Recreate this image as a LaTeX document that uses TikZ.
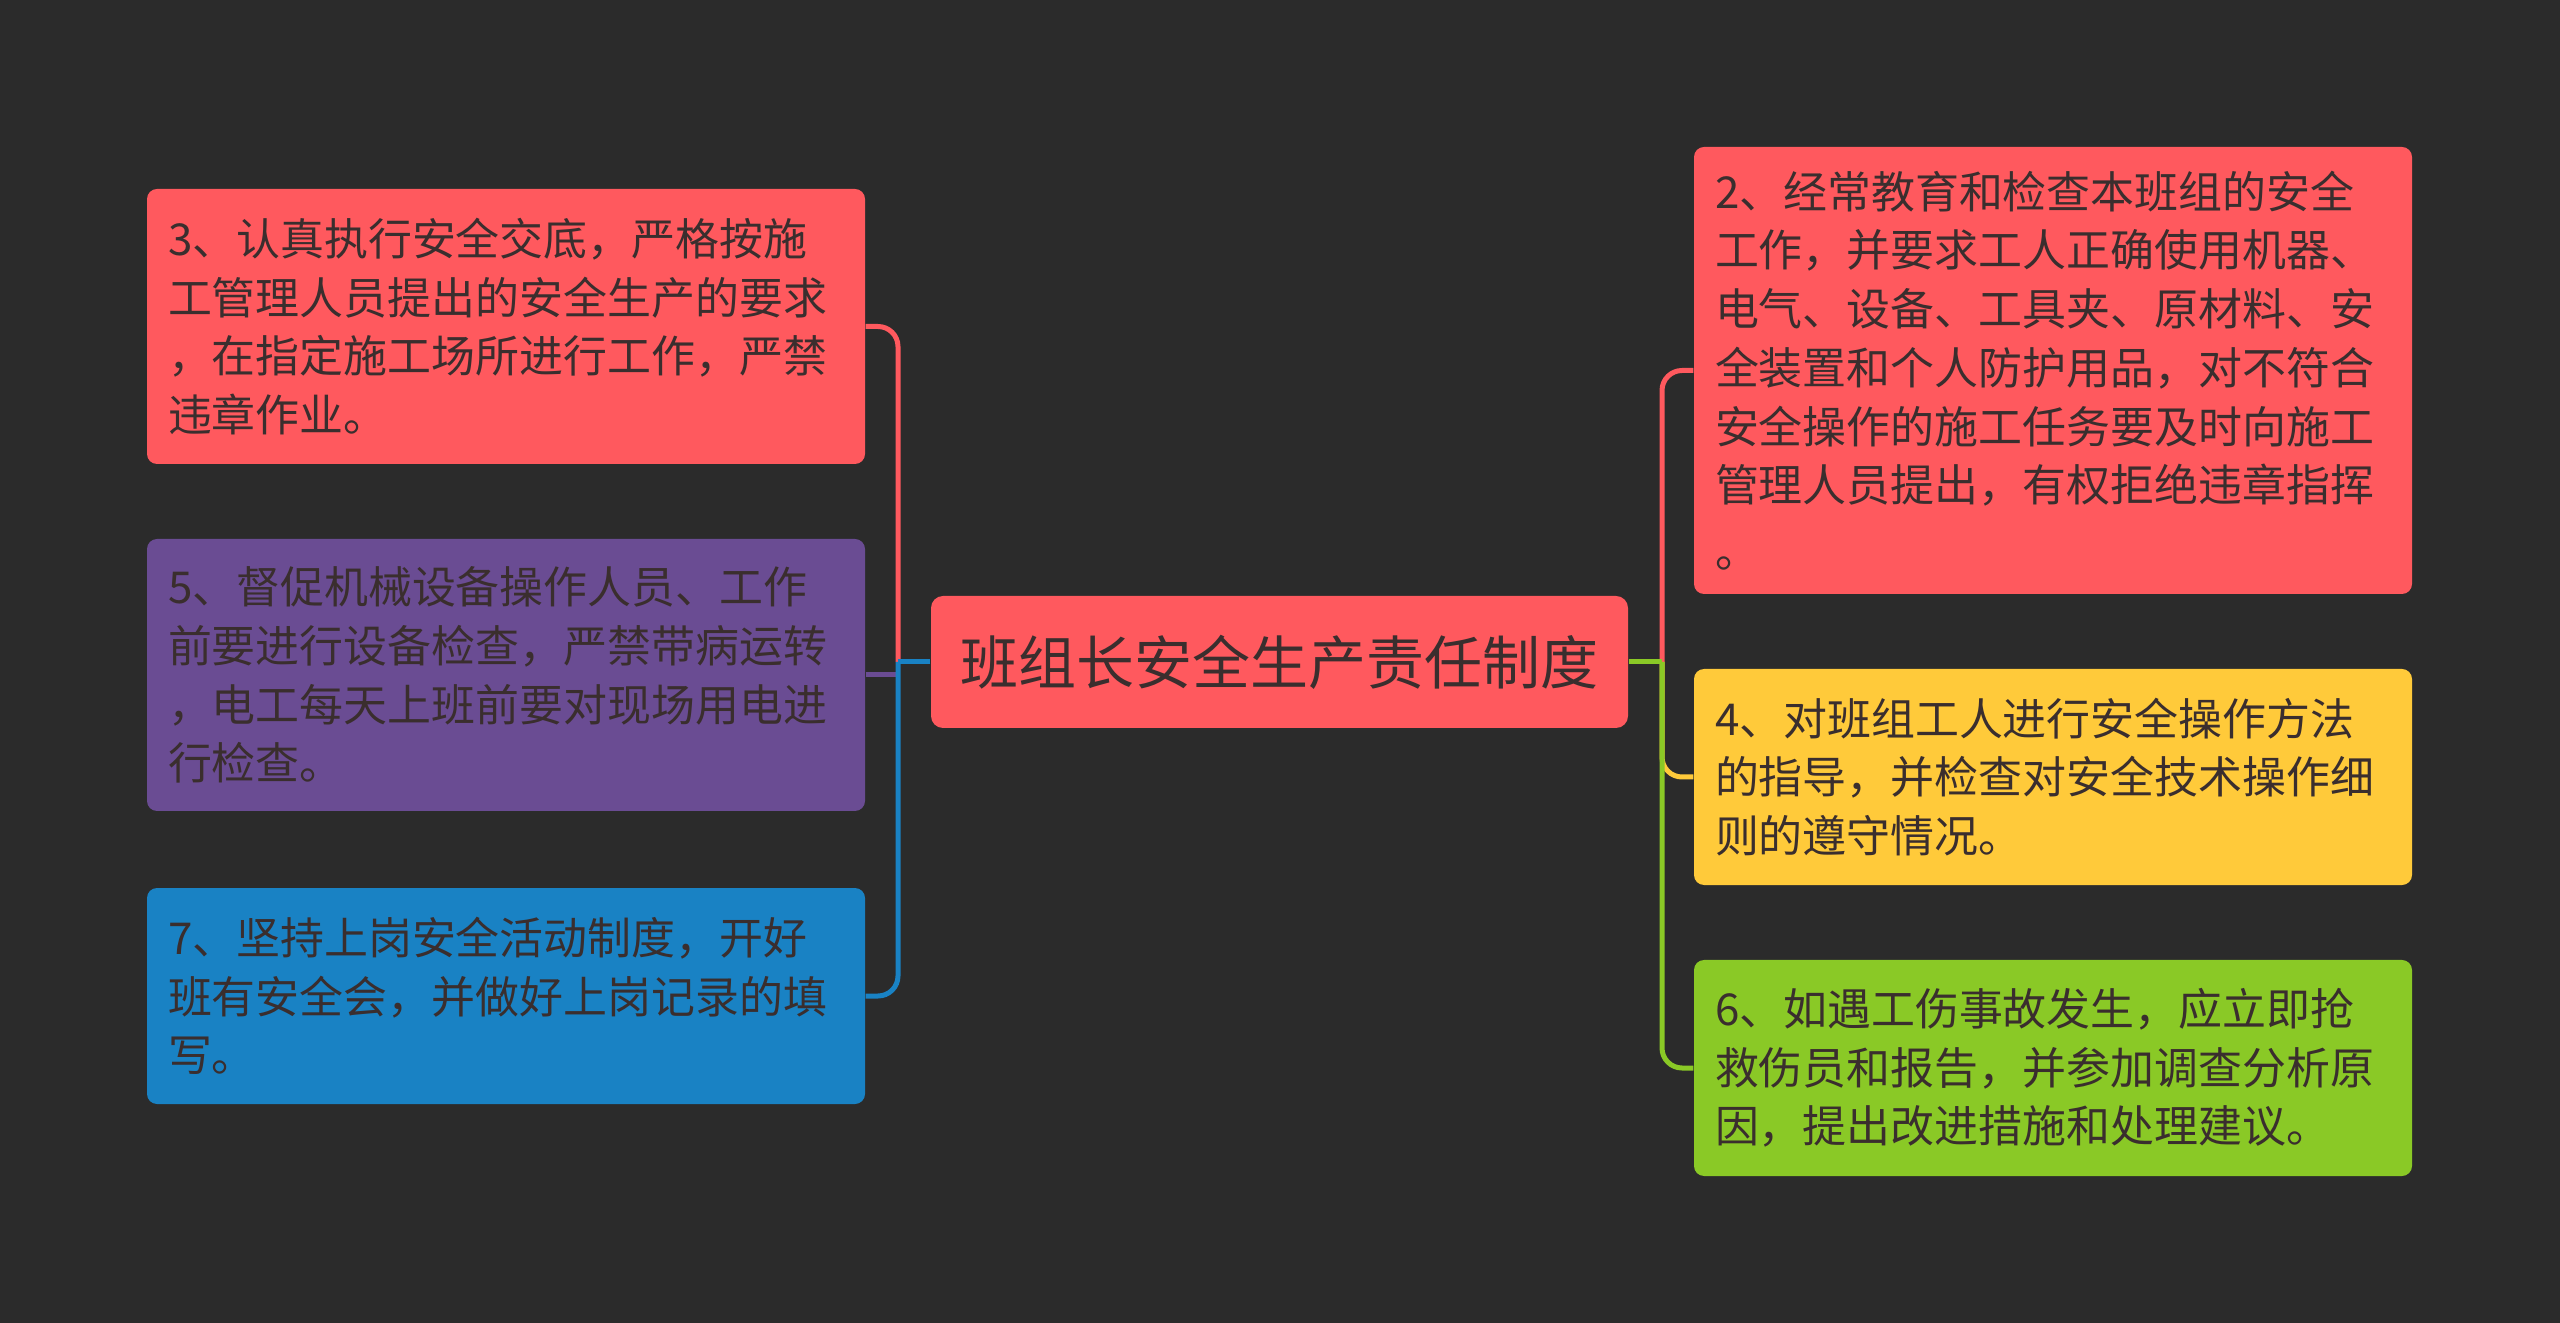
\documentclass[tikz,border=0pt]{standalone}
\usepackage{fontspec}
\newfontfamily\cjk{Noto Sans CJK SC}
\definecolor{bg}{HTML}{2B2B2B}
\definecolor{cred}{HTML}{FF595E}
\definecolor{cyellow}{HTML}{FFCA3A}
\definecolor{cgreen}{HTML}{8AC926}
\definecolor{cblue}{HTML}{1982C4}
\definecolor{cpurple}{HTML}{6A4C93}
\definecolor{ink}{HTML}{3A2E2E}
\tikzset{
  leaf/.style={rectangle, rounded corners=0.1cm, text=ink, inner ysep=0pt, inner xsep=0.21cm,
    align=left, text width=6.76cm, minimum width=7.18cm,
    font=\cjk\fontsize{12.5pt}{16.7pt}\selectfont},
  root/.style={rectangle, rounded corners=0.12cm, fill=cred, text=ink, inner sep=0pt,
    minimum width=6.97cm, minimum height=1.32cm, font=\cjk\fontsize{16.5pt}{20pt}\selectfont},
  link/.style={line width=0.05cm, rounded corners=0.2cm}
}
\begin{document}
\begin{tikzpicture}
\useasboundingbox[fill=bg] (0,0) rectangle (25.6,-13.23);
\node[root] (c) at (12.795,-6.62) {班组长安全生产责任制度};
\node[leaf, fill=cred, minimum height=2.75cm] (b3) at (5.06,-3.265)
  {3、认真执行安全交底，严格按施\\工管理人员提出的安全生产的要求\\，在指定施工场所进行工作，严禁\\违章作业。};
\node[leaf, fill=cpurple, minimum height=2.72cm] (b5) at (5.06,-6.75)
  {5、督促机械设备操作人员、工作\\前要进行设备检查，严禁带病运转\\，电工每天上班前要对现场用电进\\行检查。};
\node[leaf, fill=cblue, minimum height=2.16cm] (b7) at (5.06,-9.96)
  {7、坚持上岗安全活动制度，开好\\班有安全会，并做好上岗记录的填\\写。};
\node[leaf, fill=cred, minimum height=4.47cm] (b2) at (20.53,-3.705)
  {2、经常教育和检查本班组的安全\\工作，并要求工人正确使用机器、\\电气、设备、工具夹、原材料、安\\全装置和个人防护用品，对不符合\\安全操作的施工任务要及时向施工\\管理人员提出，有权拒绝违章指挥\\[0.07cm]。};
\node[leaf, fill=cyellow, minimum height=2.16cm] (b4) at (20.53,-7.77)
  {4、对班组工人进行安全操作方法\\的指导，并检查对安全技术操作细\\则的遵守情况。};
\node[leaf, fill=cgreen, minimum height=2.16cm] (b6) at (20.53,-10.68)
  {6、如遇工伤事故发生，应立即抢\\救伤员和报告，并参加调查分析原\\因，提出改进措施和处理建议。};
\coordinate (lj) at (8.98,-6.62);
\coordinate (rj) at (16.62,-6.62);
% left side
\draw[link, cred] (lj) |- (b3.east);
\draw[link, cpurple] (b5.east) -- (b5.east -| lj);
\draw[link, cblue] (lj) |- (b7.east);
\draw[line width=0.05cm, cblue] (c.west) -- (lj);
% right side
\draw[link, cred] (rj) |- (b2.west);
\draw[link, cyellow] (rj) |- (b4.west);
\draw[link, cgreen] (rj) |- (b6.west);
\draw[line width=0.05cm, cgreen] (c.east) -- (rj);
\end{tikzpicture}
\end{document}
